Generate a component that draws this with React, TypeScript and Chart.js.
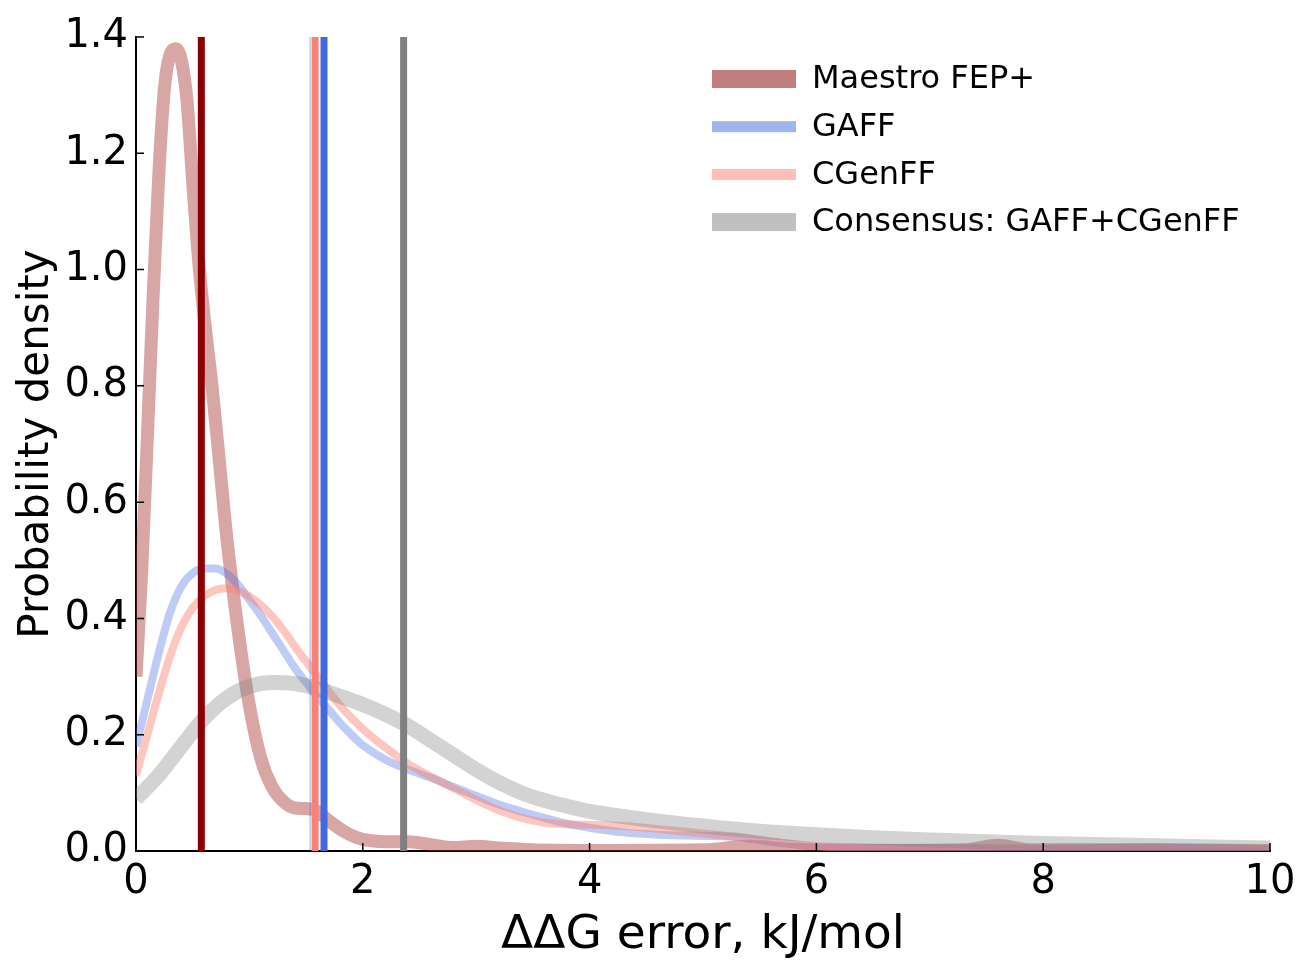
import React, { useEffect, useRef } from 'react';
import { Chart, registerables } from 'chart.js';

Chart.register(...registerables);

// ---------- data ----------
const maestroX = [0, 0.05, 0.1, 0.15, 0.2, 0.25, 0.3, 0.35, 0.4, 0.45, 0.5, 0.55, 0.6, 0.67, 0.75, 0.8, 0.9, 1.0, 1.1, 1.2, 1.3, 1.4, 1.5, 1.6, 1.7, 1.8, 1.9, 2.0, 2.2, 2.4, 2.6, 2.8, 3.0, 3.2, 3.5, 4.0, 5.0, 5.4, 5.8, 6.5, 7.3, 7.6, 7.9, 9.0, 10.0];
const maestroY = [0.30, 0.48, 0.71, 0.95, 1.16, 1.31, 1.37, 1.38, 1.36, 1.29, 1.15, 1.02, 0.92, 0.8, 0.64, 0.54, 0.38, 0.25, 0.16, 0.11, 0.085, 0.074, 0.073, 0.068, 0.052, 0.038, 0.027, 0.02, 0.016, 0.016, 0.011, 0.006, 0.008, 0.005, 0.002, 0.001, 0.002, 0.008, 0.003, 0.001, 0.002, 0.01, 0.002, 0.002, 0.001];

const gaffX = [0, 0.1, 0.2, 0.3, 0.4, 0.5, 0.6, 0.7, 0.8, 0.9, 1.0, 1.1, 1.2, 1.3, 1.4, 1.5, 1.6, 1.7, 1.8, 1.9, 2.0, 2.2, 2.4, 2.6, 2.8, 3.0, 3.2, 3.4, 3.6, 3.8, 4.0, 4.3, 4.6, 5.0, 5.3, 5.6, 6.0, 7.0, 8.0, 9.0, 10.0];
const gaffY = [0.18, 0.26, 0.34, 0.41, 0.455, 0.478, 0.486, 0.486, 0.477, 0.458, 0.432, 0.405, 0.375, 0.345, 0.315, 0.29, 0.265, 0.243, 0.22, 0.2, 0.182, 0.157, 0.14, 0.126, 0.11, 0.095, 0.08, 0.068, 0.057, 0.047, 0.04, 0.032, 0.028, 0.026, 0.024, 0.016, 0.008, 0.005, 0.004, 0.006, 0.003];

const cgenffX = [0, 0.1, 0.2, 0.3, 0.4, 0.5, 0.6, 0.7, 0.8, 0.9, 1.0, 1.1, 1.2, 1.3, 1.4, 1.5, 1.6, 1.7, 1.8, 1.9, 2.0, 2.2, 2.4, 2.6, 2.8, 3.0, 3.2, 3.4, 3.6, 3.8, 4.0, 4.3, 4.6, 5.0, 5.4, 5.8, 6.2, 7.0, 8.0, 9.0, 10.0];
const cgenffY = [0.13, 0.2, 0.27, 0.335, 0.385, 0.418, 0.438, 0.449, 0.452, 0.448, 0.438, 0.423, 0.404, 0.38, 0.352, 0.326, 0.3, 0.275, 0.25, 0.229, 0.21, 0.178, 0.15, 0.128, 0.108, 0.088, 0.07, 0.057, 0.049, 0.046, 0.045, 0.043, 0.038, 0.03, 0.022, 0.012, 0.006, 0.004, 0.004, 0.004, 0.003];

const consensusX = [0, 0.2, 0.4, 0.6, 0.8, 1.0, 1.2, 1.4, 1.6, 1.8, 2.0, 2.2, 2.4, 2.6, 2.8, 3.0, 3.2, 3.4, 3.6, 3.8, 4.0, 4.5, 5.0, 5.5, 6.0, 6.5, 7.0, 8.0, 9.0, 10.0];
const consensusY = [0.09, 0.13, 0.18, 0.228, 0.263, 0.283, 0.29, 0.288, 0.279, 0.266, 0.252, 0.235, 0.215, 0.19, 0.165, 0.14, 0.118, 0.1, 0.087, 0.077, 0.068, 0.054, 0.043, 0.034, 0.028, 0.023, 0.019, 0.013, 0.009, 0.005];

// mean error markers (vertical lines)
const meanMaestro = 0.576;
const meanGaffThin = 1.535;
const meanCgenff = 1.579;
const meanGaff = 1.658;
const meanConsensus = 2.36;

const legendLabels = ['Maestro FEP+', 'GAFF', 'CGenFF', 'Consensus: GAFF+CGenFF'];
const xTicks = [0, 2, 4, 6, 8, 10];
const yTicks = [0, 0.2, 0.4, 0.6, 0.8, 1.0, 1.2, 1.4];

const Y_MAX = 1.4;
const FONT = "'DejaVu Sans', sans-serif";

const pts = (xs: number[], ys: number[]) => xs.map((x, i) => ({ x, y: ys[i] }));
const vline = (x: number) => [{ x, y: 0 }, { x, y: Y_MAX }];

const legendStyles = [
  { color: 'rgb(193,126,126)', width: 18 },
  { color: 'rgb(160,181,236)', width: 11 },
  { color: 'rgb(255,190,183)', width: 11 },
  { color: 'rgb(192,192,192)', width: 18 },
];

const decorPlugin = {
  id: 'decor',
  afterDraw(chart: any) {
    const { ctx, chartArea, scales } = chart;
    ctx.save();
    // inward ticks
    ctx.strokeStyle = '#000';
    ctx.lineWidth = 1.5;
    ctx.beginPath();
    yTicks.forEach((v) => {
      const y = scales.y.getPixelForValue(v);
      ctx.moveTo(chartArea.left, y);
      ctx.lineTo(chartArea.left + 8, y);
    });
    xTicks.forEach((v) => {
      const x = scales.x.getPixelForValue(v);
      ctx.moveTo(x, chartArea.bottom);
      ctx.lineTo(x, chartArea.bottom - 8);
    });
    ctx.stroke();

    // legend
    const hx0 = chartArea.left + 576;
    const hx1 = chartArea.left + 660;
    const tx = chartArea.left + 676;
    ctx.font = `32px ${FONT}`;
    ctx.textBaseline = 'middle';
    ctx.textAlign = 'left';
    legendLabels.forEach((label, i) => {
      const cy = chartArea.top + 42 + i * 47.7;
      const st = legendStyles[i];
      ctx.fillStyle = st.color;
      ctx.fillRect(hx0, cy - st.width / 2, hx1 - hx0, st.width);
      ctx.fillStyle = '#000';
      ctx.fillText(label, tx, cy + 1);
    });
    ctx.restore();
  },
};

export default function App() {
  const ref = useRef<HTMLCanvasElement | null>(null);

  useEffect(() => {
    document.body.style.margin = '0';
    const canvas = ref.current;
    if (!canvas) return;
    const chart = new Chart(canvas, {
      type: 'line',
      data: {
        datasets: [
          { label: 'mean Maestro', data: vline(meanMaestro), borderColor: 'rgb(139,0,0)', borderWidth: 7 },
          { label: 'mean thin', data: vline(meanGaffThin), borderColor: 'rgba(65,105,225,0.35)', borderWidth: 1.5 },
          { label: 'mean CGenFF', data: vline(meanCgenff), borderColor: 'rgb(250,128,114)', borderWidth: 7 },
          { label: 'mean GAFF', data: vline(meanGaff), borderColor: 'rgb(65,105,225)', borderWidth: 7 },
          { label: 'mean Consensus', data: vline(meanConsensus), borderColor: 'rgb(128,128,128)', borderWidth: 7 },
          { label: legendLabels[3], data: pts(consensusX, consensusY), borderColor: 'rgba(128,128,128,0.35)', borderWidth: 15, cubicInterpolationMode: 'monotone' },
          { label: legendLabels[2], data: pts(cgenffX, cgenffY), borderColor: 'rgba(250,128,114,0.45)', borderWidth: 8, cubicInterpolationMode: 'monotone' },
          { label: legendLabels[1], data: pts(gaffX, gaffY), borderColor: 'rgba(65,105,225,0.35)', borderWidth: 8, cubicInterpolationMode: 'monotone' },
          { label: legendLabels[0], data: pts(maestroX, maestroY), borderColor: 'rgba(165,42,42,0.42)', borderWidth: 13, cubicInterpolationMode: 'monotone' },
        ] as any,
      },
      options: {
        responsive: false,
        animation: false,
        events: [],
        layout: { padding: { top: 37, right: 29, left: 0, bottom: 0 } },
        elements: { point: { radius: 0 }, line: { fill: false, borderCapStyle: 'butt' } },
        plugins: { legend: { display: false }, tooltip: { enabled: false } },
        scales: {
          x: {
            type: 'linear',
            min: 0,
            max: 10,
            afterBuildTicks: (s: any) => { s.ticks = xTicks.map((v) => ({ value: v })); },
            afterFit: (s: any) => { s.height = 110; s.paddingLeft = 0; s.paddingRight = 0; },
            grid: { display: false, drawTicks: false },
            border: { display: true, color: '#000', width: 2 },
            ticks: { color: '#000', font: { family: FONT, size: 40 }, padding: 8, maxRotation: 0, callback: (v: any) => String(v) },
            title: { display: true, text: 'ΔΔG error, kJ/mol', color: '#000', font: { family: FONT, size: 47, lineHeight: 1 }, padding: { top: 0, bottom: 2 } },
          },
          y: {
            type: 'linear',
            min: 0,
            max: Y_MAX,
            afterBuildTicks: (s: any) => { s.ticks = yTicks.map((v) => ({ value: v })); },
            afterFit: (s: any) => { s.width = 136; s.paddingTop = 0; s.paddingBottom = 0; },
            grid: { display: false, drawTicks: false },
            border: { display: true, color: '#000', width: 2 },
            ticks: { color: '#000', font: { family: FONT, size: 40 }, padding: 8, callback: (v: any) => Number(v).toFixed(1) },
            title: { display: true, text: 'Probability density', color: '#000', font: { family: FONT, size: 42, lineHeight: 1 }, padding: { top: 16, bottom: 0 } },
          },
        },
      } as any,
      plugins: [decorPlugin],
    });
    return () => chart.destroy();
  }, []);

  return (
    <div style={{ position: 'absolute', left: 0, top: 0, width: 1299, height: 961, background: '#fff' }}>
      <canvas ref={ref} width={1299} height={961} style={{ display: 'block' }} />
    </div>
  );
}
